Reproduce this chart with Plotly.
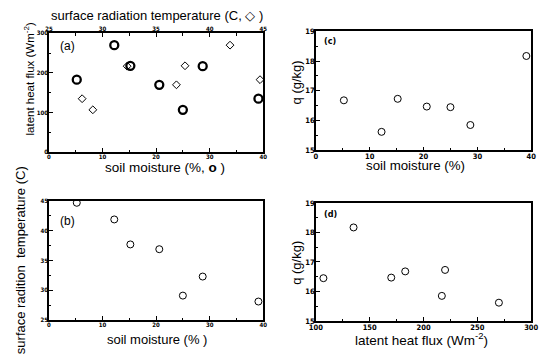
import plotly.graph_objects as go

W, H = 546, 364

# ---- data ----
soil_moisture = [5.2, 12.2, 15.2, 20.6, 25.0, 28.7, 39.1]
latent_heat_flux = [183, 270, 218, 170, 107, 217, 135]
surface_temp = [44.7, 41.9, 37.7, 36.9, 29.1, 32.3, 28.1]
q_humidity = [16.68, 15.62, 16.73, 16.47, 16.45, 15.85, 18.17]
lhf_for_d = [183, 270, 220, 170, 107, 217, 135]

def px(x):
    return x / W

def py(y):
    return 1 - y / H

fig = go.Figure()

# (a) circles: LHF vs soil moisture
fig.add_trace(go.Scatter(x=soil_moisture, y=latent_heat_flux, mode="markers",
                         marker=dict(symbol="circle-open", size=8, color="black",
                                     line=dict(width=2.3, color="black")),
                         xaxis="x", yaxis="y", showlegend=False))
# (a) diamonds: LHF vs surface temp (top axis)
fig.add_trace(go.Scatter(x=surface_temp, y=latent_heat_flux, mode="markers",
                         marker=dict(symbol="diamond-open", size=6, color="black",
                                     line=dict(width=1, color="black")),
                         xaxis="x5", yaxis="y", showlegend=False))
# (b)
fig.add_trace(go.Scatter(x=soil_moisture, y=surface_temp, mode="markers",
                         marker=dict(symbol="circle-open", size=7, color="black",
                                     line=dict(width=1, color="black")),
                         xaxis="x2", yaxis="y2", showlegend=False))
# (c)
fig.add_trace(go.Scatter(x=soil_moisture, y=q_humidity, mode="markers",
                         marker=dict(symbol="circle-open", size=7, color="black",
                                     line=dict(width=1, color="black")),
                         xaxis="x3", yaxis="y3", showlegend=False))
# (d)
fig.add_trace(go.Scatter(x=lhf_for_d, y=q_humidity, mode="markers",
                         marker=dict(symbol="circle-open", size=7, color="black",
                                     line=dict(width=1, color="black")),
                         xaxis="x4", yaxis="y4", showlegend=False))

NARROW = "DejaVu Sans Condensed, Liberation Sans Narrow, sans-serif"
tf_small = dict(family=NARROW, size=6, color="black", weight="bold")
tf_big = dict(family=NARROW, size=7.5, color="black", weight="bold")

def ax(domain, rng, dtick, mdtick, anchor, tf, side=None, overlaying=None, mirror=True):
    d = dict(domain=domain, range=rng, dtick=dtick, tick0=rng[0], ticks="inside",
             ticklen=4, tickwidth=1, tickcolor="black", ticklabelstandoff=-2,
             minor=dict(ticks="inside", ticklen=2.5, dtick=mdtick, tick0=rng[0],
                        tickcolor="black", showgrid=False),
             showline=True, linecolor="black", linewidth=1.5, mirror=mirror,
             showgrid=False, zeroline=False, tickfont=tf, anchor=anchor,
             fixedrange=True)
    if side:
        d["side"] = side
    if overlaying:
        d["overlaying"] = overlaying
    return d

xa = [px(43), px(263)]
xc = [px(317), px(538)]
fig.update_layout(
    width=W, height=H, margin=dict(l=0, r=0, t=0, b=0),
    plot_bgcolor="white", paper_bgcolor="white",
    xaxis=ax(xa, [0, 40], 10, 5, "y", tf_small, mirror=False),
    yaxis=ax([py(152), py(30)], [0, 300], 100, 50, "x", tf_small),
    xaxis5=ax(xa, [25, 45], 5, 2.5, "y", tf_small, side="top", overlaying="x", mirror=False),
    xaxis2=ax(xa, [0, 40], 10, 5, "y2", tf_small),
    yaxis2=ax([py(324), py(202)], [25, 45], 5, 2.5, "x2", tf_small),
    xaxis3=ax(xc, [0, 40], 10, 5, "y3", tf_big),
    yaxis3=ax([py(150), py(28)], [15, 19], 1, 0.5, "x3", tf_big),
    xaxis4=ax(xc, [100, 300], 50, 25, "y4", tf_big),
    yaxis4=ax([py(325), py(204)], [15, 19], 1, 0.5, "x4", tf_big),
)

FAM = "Liberation Sans, Arial, sans-serif"

def f(size):
    return dict(family=FAM, size=size, color="black")

def note(text, x, y, font, angle=0):
    fig.add_annotation(text=text, x=px(x), y=py(y), xref="paper", yref="paper",
                       showarrow=False, textangle=angle, font=font,
                       xanchor="center", yanchor="middle")

note("surface radiation temperature (C, \u25c7 )", 154, 12, f(13))
note("soil moisture (%, <b>o</b> )", 162, 168, f(13.5))
note("latent heat flux (Wm<sup>-2</sup>)", 23, 77, f(11.5), angle=-90)
note("(a)", 62, 43, f(12))

note("surface radition  temperature (C)", 14, 263, f(13), angle=-90)
note("soil moisture (% )", 154, 344, f(13))
note("(b)", 62, 222, f(12))

note("q (g/kg)", 297, 80, f(13), angle=-90)
note("soil moisture (%)", 419, 166, f(13.3))
note("<b>(c)</b>", 332, 38, dict(family=NARROW, size=9, color="black"))

note("q (g/kg)", 297, 265, f(13), angle=-90)
note("latent heat flux (Wm<sup>-2</sup>)", 425, 343, f(13.5))
note("<b>(d)</b>", 332, 215, dict(family=NARROW, size=9, color="black"))

fig.write_html("out.html", config={"displayModeBar": False},
               post_script="document.body.style.margin='0';")
